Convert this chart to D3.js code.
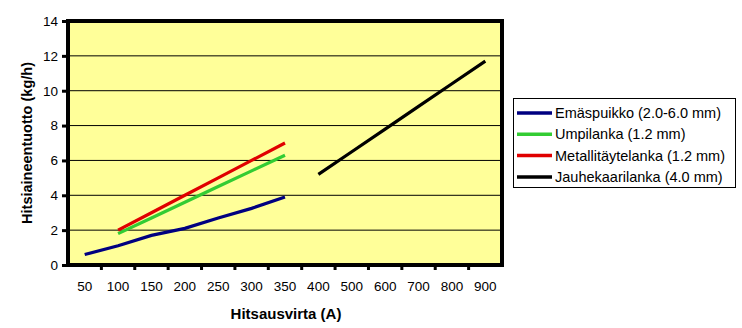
<!DOCTYPE html>
<html><head><meta charset="utf-8">
<script src="https://cdn.jsdelivr.net/npm/d3@7"></script>
<style>body{margin:0;background:#fff}svg{display:block}text{font-family:"Liberation Sans",Arial,sans-serif}</style>
</head><body>
<script>
const categories = ["50","100","150","200","250","300","350","400","500","600","700","800","900"];
const yTicks = [0,2,4,6,8,10,12,14];
const seriesNames = ["Emäspuikko (2.0-6.0 mm)","Umpilanka (1.2 mm)","Metallitäytelanka (1.2 mm)","Jauhekaarilanka (4.0 mm)"];
const seriesColors = ["#000080","#33cc33","#e00000","#000000"];
const emaspuikko = [[ "50",0.6],["100",1.1],["150",1.7],["200",2.1],["250",2.7],["300",3.25],["350",3.9]];
const umpilanka = [["100",1.8],["150",2.7],["200",3.6],["250",4.5],["300",5.4],["350",6.3]];
const metallitayte = [["100",2.0],["150",3.0],["200",4.0],["250",5.0],["300",6.0],["350",7.0]];
const jauhekaari = [["400",5.2],["500",6.5],["600",7.8],["700",9.1],["800",10.4],["900",11.7]];
const seriesData = [emaspuikko, umpilanka, metallitayte, jauhekaari];

const W=742,H=328;
const L=68,R=502,T=21,B=265;
const svg=d3.select("body").append("svg").attr("width",W).attr("height",H);
const x=d3.scaleBand().domain(categories).range([L,R]).padding(0);
const y=d3.scaleLinear().domain([0,14]).range([B,T]);

svg.append("rect").attr("x",L).attr("y",T).attr("width",R-L).attr("height",B-T).attr("fill","#ffff99");
svg.append("g").selectAll("line").data(yTicks.filter(d=>d>0&&d<14)).join("line")
 .attr("x1",L).attr("x2",R).attr("y1",d=>y(d)).attr("y2",d=>y(d)).attr("stroke","#000").attr("stroke-width",1);

const ya=svg.append("g").attr("transform",`translate(${L},0)`).call(d3.axisLeft(y).tickValues(yTicks).tickSize(6).tickPadding(4));
ya.select(".domain").remove();
ya.selectAll("line").attr("stroke","#000").attr("stroke-width",3);
ya.selectAll("text").attr("font-size",13.5).attr("fill","#000");

const xa=svg.append("g").attr("transform",`translate(0,${B})`).call(d3.axisBottom(x).tickSize(0).tickPadding(16));
xa.select(".domain").remove();
xa.selectAll("text").attr("font-size",13.5).attr("fill","#000");
svg.append("g").selectAll("line").data(categories.slice(1)).join("line")
 .attr("x1",d=>x(d)).attr("x2",d=>x(d)).attr("y1",B).attr("y2",B+5).attr("stroke","#000").attr("stroke-width",3);

const line=d3.line().x(d=>x(d[0])+x.bandwidth()/2).y(d=>y(d[1]));
seriesData.forEach((s,i)=>{
  svg.append("path").datum(s).attr("d",line).attr("fill","none").attr("stroke",seriesColors[i]).attr("stroke-width",3.2);
});

svg.append("rect").attr("x",L).attr("y",T).attr("width",R-L).attr("height",B-T).attr("fill","none").attr("stroke","#000").attr("stroke-width",4);

svg.append("text").attr("x",286).attr("y",319).attr("text-anchor","middle").attr("font-size",15).attr("font-weight","bold").text("Hitsausvirta (A)");
svg.append("text").attr("transform",`translate(32,143) rotate(-90)`).attr("text-anchor","middle").attr("font-size",14.5).attr("font-weight","bold").text("Hitsiaineentuotto (kg/h)");

const lg=svg.append("g");
lg.append("rect").attr("x",513.5).attr("y",98.5).attr("width",222).attr("height",89).attr("fill","#fff").attr("stroke","#000").attr("stroke-width",1);
seriesNames.forEach((n,i)=>{
  const yy=113+i*21.3;
  lg.append("line").attr("x1",517).attr("x2",552).attr("y1",yy).attr("y2",yy).attr("stroke",seriesColors[i]).attr("stroke-width",3.5);
  lg.append("text").attr("x",555).attr("y",yy+5).attr("font-size",14.5).text(n);
});
</script>
</body></html>
